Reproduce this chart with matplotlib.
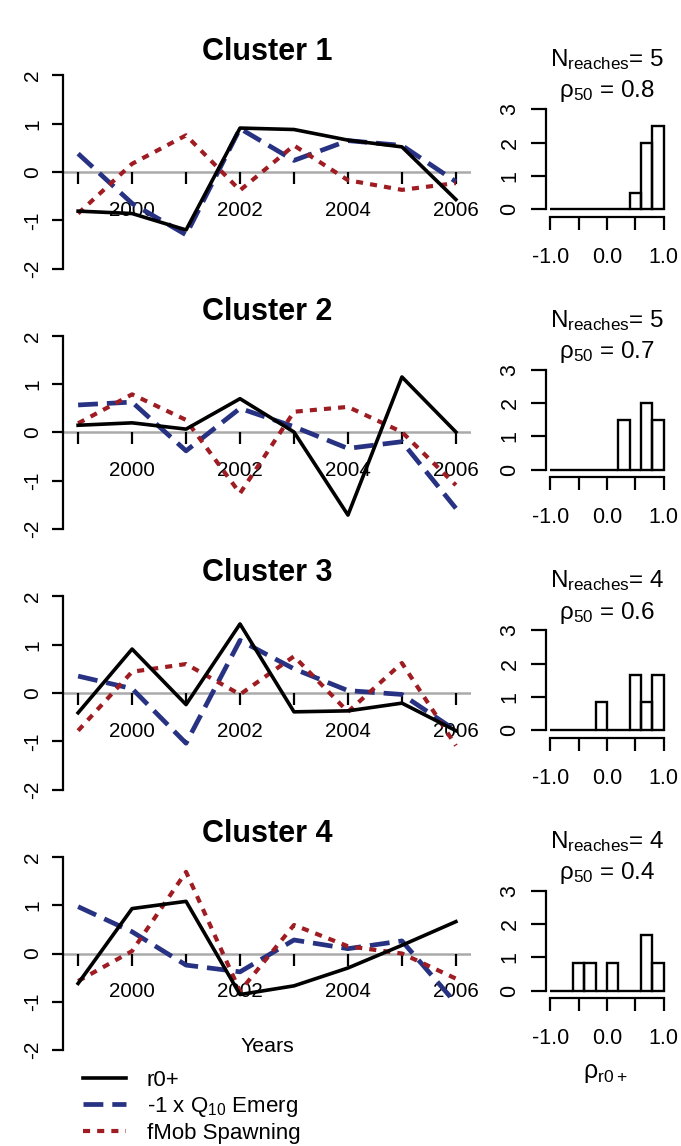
import matplotlib
matplotlib.use("Agg")
import matplotlib.pyplot as plt
import numpy as np

plt.rcParams['font.family'] = ['Liberation Sans', 'DejaVu Sans']
plt.rcParams['mathtext.default'] = 'regular'

# ---- data ----
years = [1999, 2000, 2001, 2002, 2003, 2004, 2005, 2006]

r0 = [
  [-0.81, -0.86, -1.20, 0.91, 0.88, 0.66, 0.52, -0.57],
  [0.15, 0.20, 0.07, 0.70, 0.01, -1.71, 1.15, 0.01],
  [-0.41, 0.91, -0.24, 1.43, -0.39, -0.37, -0.21, -0.78],
  [-0.62, 0.93, 1.08, -0.85, -0.67, -0.30, 0.17, 0.66],
]
q10_emerg = [
  [0.38, -0.65, -1.30, 0.90, 0.24, 0.65, 0.55, -0.20],
  [0.57, 0.63, -0.38, 0.50, 0.12, -0.33, -0.19, -1.57],
  [0.35, 0.09, -1.04, 1.09, 0.50, 0.05, -0.03, -0.78],
  [0.97, 0.45, -0.24, -0.38, 0.28, 0.10, 0.26, -1.03],
]
fmob_spawning = [
  [-0.86, 0.17, 0.76, -0.38, 0.55, -0.17, -0.37, -0.23],
  [0.19, 0.79, 0.26, -1.26, 0.43, 0.53, 0.01, -1.09],
  [-0.78, 0.44, 0.60, -0.03, 0.76, -0.39, 0.62, -1.09],
  [-0.57, 0.05, 1.69, -0.78, 0.59, 0.15, 0.00, -0.52],
]

cluster_names = ['Cluster 1', 'Cluster 2', 'Cluster 3', 'Cluster 4']
n_reaches = [5, 5, 4, 4]
rho50 = [0.8, 0.7, 0.6, 0.4]

# density histogram of rho, bins of 0.2 from -1 to 1
bin_left = [-1.0, -0.8, -0.6, -0.4, -0.2, 0.0, 0.2, 0.4, 0.6, 0.8]
hist_heights = [
  [0, 0, 0, 0, 0, 0, 0, 0.5, 2.0, 2.5],
  [0, 0, 0, 0, 0, 0, 1.5, 0, 2.0, 1.5],
  [0, 0, 0, 0, 0.833, 0, 0, 1.667, 0.833, 1.667],
  [0, 0, 0.833, 0.833, 0, 0.833, 0, 0, 1.667, 0.833],
]

BLUE = '#283282'
RED = '#9e1c22'
GRAY = '#aaaaaa'

W, H = 681, 1146
fig = plt.figure(figsize=(W / 100, H / 100), dpi=100)


def px_box(left, top, right, bottom):
  return [left / W, 1 - bottom / H, (right - left) / W, (bottom - top) / H]


def fig_xy(x, y):
  return x / W, 1 - y / H


zeros = [172, 432.5, 693, 953.5]
handles = None

for k in range(4):
  z = zeros[k]
  # ---- time series panel ----
  ax = fig.add_axes(px_box(63, z - 104.3, 471, z + 104.3))
  ax.set_xlim(1998.72, 2006.28)
  ax.set_ylim(-2.16, 2.16)
  ax.axhline(0, color=GRAY, lw=1.8, zorder=1)
  l1, = ax.plot(years, r0[k], color='black', lw=2.6, zorder=3, label='r0+')
  l2, = ax.plot(years, q10_emerg[k], color=BLUE, lw=3.4, dashes=(4.2, 1.9),
                zorder=2, label='-1 x Q$_{10}$ Emerg')
  l3, = ax.plot(years, fmob_spawning[k], color=RED, lw=3.0, dashes=(1.7, 1.7),
                zorder=2, label='fMob Spawning')
  handles = [l1, l2, l3]

  for s in ['top', 'right']:
    ax.spines[s].set_visible(False)
  ax.spines['bottom'].set_visible(False)
  ax.spines['left'].set_bounds(-2, 2)
  ax.spines['left'].set_linewidth(1.6)
  ax.spines['bottom'].set_position(('data', 0))

  ax.set_yticks([-2, -1, 0, 1, 2])
  ax.set_yticklabels(['-2', '-1', '0', '1', '2'], rotation=90, va='center')
  ax.tick_params(axis='y', length=8, width=1.6, pad=7, labelsize=15)
  ax.set_xticks(years)
  ax.set_xticklabels([str(y) if y % 2 == 0 else '' for y in years])
  ax.tick_params(axis='x', length=8.6, width=1.6, pad=12, labelsize=14.8,
                 colors='black')

  fx, fy = fig_xy(267, z - 112)
  fig.text(fx, fy, cluster_names[k], ha='center', va='baseline',
           fontsize=22, fontweight='bold')

  # ---- histogram panel ----
  h0 = z + 37.2
  hx = fig.add_axes(px_box(545.8, h0 - 103.9, 668.2, h0 + 7.7))
  hx.set_xlim(-1.08, 1.08)
  hx.set_ylim(-0.231, 3.12)
  hx.bar(bin_left, hist_heights[k], width=0.2, align='edge', fill=False,
         edgecolor='black', lw=1.7)
  for s in ['top', 'right']:
    hx.spines[s].set_visible(False)
  hx.spines['left'].set_bounds(0, 3)
  hx.spines['bottom'].set_bounds(-1, 1)
  hx.spines['left'].set_linewidth(1.6)
  hx.spines['bottom'].set_linewidth(1.6)
  hx.set_yticks([0, 1, 2, 3])
  hx.set_yticklabels(['0', '1', '2', '3'], rotation=90, va='center')
  hx.tick_params(axis='y', length=10.8, width=1.6, pad=7.5, labelsize=15.5)
  hx.set_xticks([-1, -0.5, 0, 0.5, 1])
  hx.set_xticklabels(['-1.0', '', '0.0', '', '1.0'])
  hx.tick_params(axis='x', length=9.4, width=1.6, pad=12, labelsize=15.5)

  fx, fy = fig_xy(607, h0 - 143)
  fig.text(fx, fy, 'N$_{reaches}$= %d' % n_reaches[k], ha='center',
           va='baseline', fontsize=17.5)
  fx, fy = fig_xy(607, h0 - 111.7)
  fig.text(fx, fy, 'ρ$_{50}$ = %.1f' % rho50[k], ha='center', va='baseline',
           fontsize=17.5)

fx, fy = fig_xy(267, zeros[3] + 93)
fig.text(fx, fy, 'Years', ha='center', va='center', fontsize=15.4)
fx, fy = fig_xy(605, 1073)
fig.text(fx, fy, 'ρ$_{r0+}$', ha='center', va='center', fontsize=18)

lx, ly = fig_xy(83, 1070)
fig.legend(handles=handles, loc='upper left', bbox_to_anchor=(lx, ly),
           frameon=False, fontsize=16, handlelength=1.94, handletextpad=0.93,
           labelspacing=0.17, borderpad=0, borderaxespad=0)

fig.savefig('out.png', dpi=100)
